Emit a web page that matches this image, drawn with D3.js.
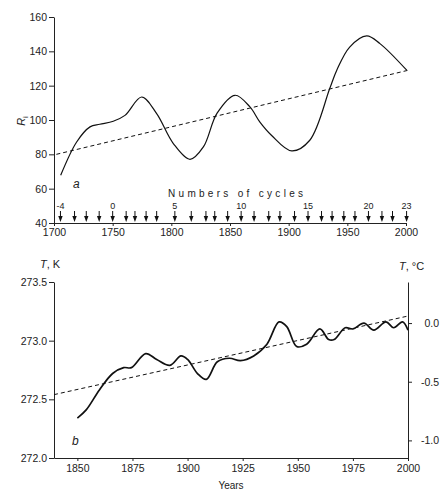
<!DOCTYPE html>
<html>
<head>
<meta charset="utf-8">
<script src="https://cdn.jsdelivr.net/npm/d3@7"></script>
<style>
  body { margin:0; background:#fff; }
  svg text { font-family: Arial, "Liberation Sans", sans-serif; fill:#222; }
  .axis path, .axis line { stroke:#222; stroke-width:1; }
  .axis text { font-size:10.5px; }
</style>
</head>
<body>
<div id="chart"></div>
<script>
// panel a: smoothed sunspot number R_i
var riYears  = [1705.7,1719.3,1730.7,1739,1750.5,1760.5,1774.7,1787.5,1801.7,1815.9,1827.3,1839,1854.3,1867,1875.5,1885.5,1902.6,1918,1935,1941,1952,1966.5,1977.8,2000.6];
var riValues = [67.8,87.2,96,97.5,99.3,102.7,113.4,103.7,86.3,77.1,84.3,104,114.4,107.6,98.8,91,82,88.2,118.3,129,142.5,149,144.5,129];
var riTrendYears = [1702, 2002];
var riTrendValues = [80, 129];
// solar cycle maxima, cycles -4 .. 23
var cycleYears = [1705.5,1717.5,1727.5,1738.5,1750,1761.5,1769,1778.5,1787.5,1803,1817,1829.5,1837,1848,1859.5,1870.5,1883,1892.5,1905,1916.5,1928,1937,1947,1956.5,1968,1979.5,1988.5,2000.5];
var cycleFirst = -4;
var cycleLabels = [-4,0,5,10,15,20,23];
var riTicksY = [40,60,80,100,120,140,160];
var riTicksX = [1700,1750,1800,1850,1900,1950,2000];

// panel b: temperature
var tYears  = [1850,1854,1860,1866,1871,1874.5,1881,1886,1892,1897,1900,1904.5,1908.5,1913.5,1919,1924,1930,1936,1941.5,1945,1949.5,1954,1960,1964,1966.5,1971.5,1975,1980,1984.5,1990,1993.5,1997.5,2000];
var tValues = [272.34,272.41,272.58,272.72,272.77,272.77,272.89,272.84,272.79,272.87,272.84,272.72,272.67,272.82,272.85,272.83,272.87,272.97,273.16,273.12,272.95,272.97,273.10,273.01,273.01,273.11,273.10,273.15,273.09,273.16,273.11,273.16,273.09];
var tTrendYears = [1839.4, 2000];
var tTrendValues = [272.54, 273.21];
var tTicksK = [272.0,272.5,273.0,273.5];
var tTicksC = [-1.0,-0.5,0.0];
var tTicksX = [1850,1875,1900,1925,1950,1975,2000];
var kelvin0 = 273.15;

var W = 440, H = 491;
var svg = d3.select("#chart").append("svg").attr("width",W).attr("height",H);
svg.append("rect").attr("width",W).attr("height",H).attr("fill","#fff");
var yearFmt = d3.format("d");

// ---------- panel a ----------
var xA = d3.scaleLinear().domain([1700,2000]).range([54,406]);
var yA = d3.scaleLinear().domain([40,160]).range([223,17]);

svg.append("g").attr("class","axis").attr("transform","translate(54,0)")
  .call(d3.axisLeft(yA).tickValues(riTicksY).tickSize(5).tickPadding(2).tickSizeOuter(0));
svg.append("g").attr("class","axis").attr("transform","translate(0,223)")
  .call(d3.axisBottom(xA).tickValues(riTicksX).tickFormat(yearFmt).tickSize(3).tickPadding(3).tickSizeOuter(0));

var line = d3.line().curve(d3.curveCatmullRom.alpha(0.5));

svg.append("path")
  .attr("d", line.x(function(d){return xA(d[0]);}).y(function(d){return yA(d[1]);})(d3.zip(riYears,riValues)))
  .attr("fill","none").attr("stroke","#111").attr("stroke-width",1.2);

svg.append("path")
  .attr("d", d3.line().x(function(d){return xA(d[0]);}).y(function(d){return yA(d[1]);})(d3.zip(riTrendYears,riTrendValues)))
  .attr("fill","none").attr("stroke","#111").attr("stroke-width",1).attr("stroke-dasharray","4,3");

// cycle arrows
var arrows = svg.append("g");
cycleYears.forEach(function(y,i){
  var x = xA(y);
  arrows.append("line").attr("x1",x).attr("x2",x).attr("y1",211).attr("y2",217).attr("stroke","#111").attr("stroke-width",1);
  arrows.append("path").attr("d","M"+(x-2.2)+",216L"+(x+2.2)+",216L"+x+",222Z").attr("fill","#111");
  var n = cycleFirst + i;
  if (cycleLabels.indexOf(n) >= 0) {
    arrows.append("text").attr("x",x).attr("y",209).attr("text-anchor","middle")
      .style("font-size","9px").text(n);
  }
});
svg.append("text").attr("x",168).attr("y",197).style("font-size","10px")
  .style("letter-spacing","3.3px").text("Numbers of cycles");

svg.append("text").attr("x",73).attr("y",188).style("font-size","12px").style("font-style","italic").text("a");
var rl = svg.append("text").attr("transform","translate(25,121) rotate(-90)").attr("text-anchor","middle").style("font-size","11px");
rl.append("tspan").style("font-style","italic").text("R");
rl.append("tspan").attr("dy",3).style("font-size","8px").text("i");

// ---------- panel b ----------
var xB = d3.scaleLinear().domain([1839.4,2000]).range([54,408]);
var yB = d3.scaleLinear().domain([272,273.5]).range([458,282]);
var yC = d3.scaleLinear().domain([272-kelvin0,273.5-kelvin0]).range([458,282]);

svg.append("g").attr("class","axis").attr("transform","translate(54,0)")
  .call(d3.axisLeft(yB).tickValues(tTicksK).tickFormat(d3.format(".1f")).tickSize(5).tickPadding(2).tickSizeOuter(0));
svg.append("g").attr("class","axis").attr("transform","translate(0,458)")
  .call(d3.axisBottom(xB).tickValues(tTicksX).tickFormat(yearFmt).tickSize(3).tickPadding(4).tickSizeOuter(0));
var rAx = svg.append("g").attr("class","axis").attr("transform","translate(408,0)")
  .call(d3.axisRight(yC).tickValues(tTicksC).tickFormat(function(d){return d3.format(".1f")(d).replace("−","-");}).tickSize(4).tickPadding(6).tickSizeOuter(0));
rAx.selectAll("text").attr("text-anchor","end").attr("x",31);

svg.append("path")
  .attr("d", d3.line().curve(d3.curveCatmullRom.alpha(0.5)).x(function(d){return xB(d[0]);}).y(function(d){return yB(d[1]);})(d3.zip(tYears,tValues)))
  .attr("fill","none").attr("stroke","#111").attr("stroke-width",1.7);

svg.append("path")
  .attr("d", d3.line().x(function(d){return xB(d[0]);}).y(function(d){return yB(d[1]);})(d3.zip(tTrendYears,tTrendValues)))
  .attr("fill","none").attr("stroke","#111").attr("stroke-width",1).attr("stroke-dasharray","4,3");

var tk = svg.append("text").attr("x",40).attr("y",268).style("font-size","11px");
tk.append("tspan").style("font-style","italic").text("T");
tk.append("tspan").text(", K");
var tc = svg.append("text").attr("x",399).attr("y",270).style("font-size","11px");
tc.append("tspan").style("font-style","italic").text("T");
tc.append("tspan").text(", °C");

svg.append("text").attr("x",72).attr("y",445).style("font-size","12px").style("font-style","italic").text("b");
svg.append("text").attr("x",231).attr("y",489).attr("text-anchor","middle").style("font-size","10px").text("Years");
</script>
</body>
</html>
